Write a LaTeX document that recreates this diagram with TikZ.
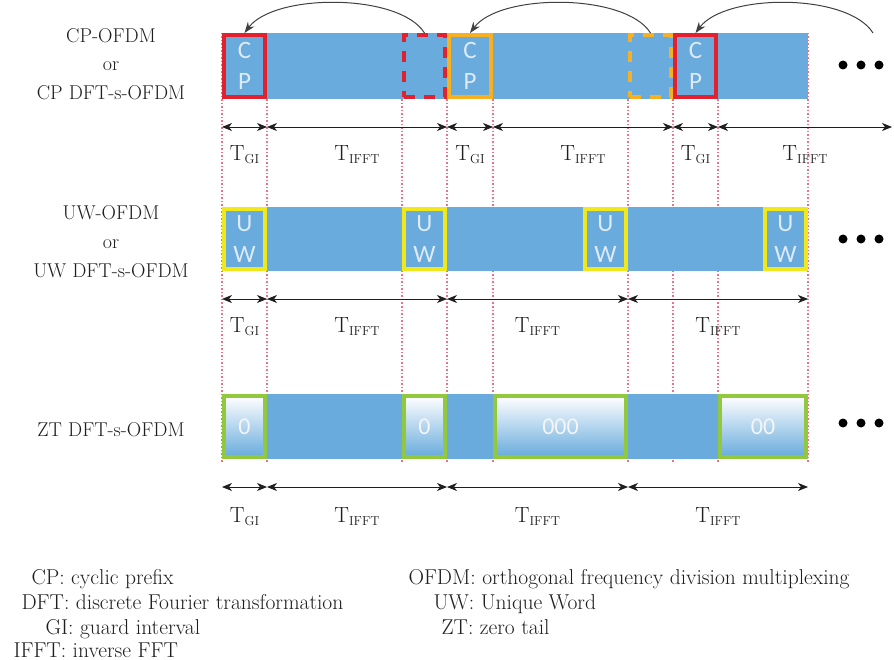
\documentclass[tikz,border=0pt]{standalone}
\usepackage{fontspec}
\newfontfamily\boxfont{Carlito}
\usetikzlibrary{arrows.meta,positioning,shadings}

\definecolor{barblue}{RGB}{104,171,220}
\definecolor{cpred}{RGB}{226,32,46}
\definecolor{cporange}{RGB}{246,176,34}
\definecolor{uwyellow}{RGB}{240,232,26}
\definecolor{ztgreen}{RGB}{146,200,62}
\definecolor{guidepink}{RGB}{240,112,132}
\definecolor{txtgray}{RGB}{30,30,30}
\definecolor{boxtext}{RGB}{222,234,245}

\newcommand{\dur}[1]{T\raisebox{-3pt}{\fontsize{13}{13}\selectfont\addfontfeatures{FakeBold=0.4}#1}}

\begin{document}
\begin{tikzpicture}[x=1pt,y=-1pt,
  gibox/.style={draw, line width=4pt, inner sep=0pt, minimum width=41pt,
    align=center, text=boxtext, font=\boxfont\fontsize{25}{31}\selectfont},
  srcbox/.style={draw, line width=4pt, inner sep=0pt, minimum width=41pt,
    minimum height=62pt, dash pattern=on 11pt off 9pt},
  ztbox/.style={draw=ztgreen, line width=4pt, inner sep=0pt, minimum height=61pt,
    top color=white, middle color=white!80!barblue, bottom color=barblue,
    text=white!92!gray, font=\boxfont\fontsize{24}{28}\selectfont},
  guide/.style={guidepink, line width=1.1pt, dash pattern=on 1.5pt off 2pt},
  copyarrow/.style={line width=1pt, draw=txtgray!85, -{Stealth[length=11pt,width=8pt]}},
  dimarrow/.style={line width=0.9pt, draw=txtgray,
    {Stealth[length=10pt,width=8pt,inset=3pt]}-{Stealth[length=10pt,width=8pt,inset=3pt]}},
  dimlab/.style={text=txtgray, font=\fontsize{22}{24}\selectfont\addfontfeatures{FakeBold=0.4}},
  rowlab/.style={text=txtgray, align=center},
  legend/.style={text=txtgray, anchor=base west, font=\fontsize{21.5}{25}\selectfont\addfontfeatures{FakeBold=0.4}}
  ]
  \useasboundingbox (0,0) rectangle (894,660);

  % guide lines
  \foreach \x in {222,267,402,447,493,628,673,718,808}
    \draw[guide] (\x,33) -- (\x,462);

  % CP row
  \fill[barblue] (222,33) rectangle (808,99);
  \node[gibox, draw=cpred, minimum height=62pt] (cp1) at (244.5,66) {C\\P};
  \node[srcbox, draw=cpred] (cpsrc1) at (424.5,66) {};
  \node[gibox, draw=cporange, minimum width=42pt, minimum height=62pt] (cp2) at (470,66) {C\\P};
  \node[srcbox, draw=cporange] (cpsrc2) at (650.5,66) {};
  \node[gibox, draw=cpred, minimum height=62pt] (cp3) at (695.5,66) {C\\P};
  \coordinate (cpsrc3) at (873,33);

  \draw[copyarrow] (cpsrc1.north) .. controls +(-25,-40) and +(30,-40) .. (cp1.north);
  \draw[copyarrow] (cpsrc2.north) .. controls +(-25,-40) and +(30,-40) .. (cp2.north);
  \draw[copyarrow] (cpsrc3) .. controls +(-25,-40) and +(30,-40) .. (cp3.north);

  % UW row
  \fill[barblue] (222,207) rectangle (808,271);
  \node[gibox, draw=uwyellow, minimum height=60pt] (uw1) at (244.5,239) {U\\W};
  \node[gibox, draw=uwyellow, minimum height=60pt] (uw2) at (424.5,239) {U\\W};
  \node[gibox, draw=uwyellow, minimum height=60pt] (uw3) at (605.5,239) {U\\W};
  \node[gibox, draw=uwyellow, minimum height=60pt] (uw4) at (785.5,239) {U\\W};

  % ZT row
  \fill[barblue] (222,394) rectangle (808,459);
  \node[ztbox, minimum width=41pt] (zt1) at (244.5,426.5) {0};
  \node[ztbox, minimum width=41pt] (zt2) at (424.5,426.5) {0};
  \node[ztbox, minimum width=131pt] (zt3) at (560.5,426.5) {000};
  \node[ztbox, minimum width=86pt] (zt4) at (763,426.5) {00};

  % dots
  \foreach \y in {65,239,423}
    \foreach \x in {843,861,879}
      \fill[black] (\x,\y) circle (4.5);

  % durations
  \foreach \a/\b/\s [count=\i] in {222/267/GI,267/447/IFFT,447/493/GI,493/673/IFFT,673/718/GI,718/892/IFFT}
    \draw[dimarrow] (\a,127) -- (\b,127) node[dimlab, midway, yshift=-28pt] (ta\i) {\dur{\s}};
  \foreach \a/\b/\s [count=\i] in {222/267/GI,267/447/IFFT,447/628/IFFT,628/808/IFFT}
    \draw[dimarrow] (\a,299) -- (\b,299) node[dimlab, midway, yshift=-28pt] (tb\i) {\dur{\s}};
  \foreach \a/\b/\s [count=\i] in {222/267/GI,267/447/IFFT,447/628/IFFT,628/808/IFFT}
    \draw[dimarrow] (\a,487) -- (\b,487) node[dimlab, midway, yshift=-30pt] (tc\i) {\dur{\s}};

  % row names
  \node[rowlab, font=\fontsize{20}{28.5}\selectfont\addfontfeatures{FakeBold=0.4}] (name1) at (111,64) {CP-OFDM\\or\\CP DFT-s-OFDM};
  \node[rowlab, font=\fontsize{20}{29}\selectfont\addfontfeatures{FakeBold=0.4}] (name2) at (111,242) {UW-OFDM\\or\\UW DFT-s-OFDM};
  \node[rowlab, font=\fontsize{20}{24}\selectfont\addfontfeatures{FakeBold=0.4}] (name3) at (111,430) {ZT DFT-s-OFDM};

  % legend
  \node[legend] (lg1) at (28,584) {CP: cyclic prefix};
  \node[legend] (lg2) at (18,609) {DFT: discrete Fourier transformation};
  \node[legend] (lg3) at (42,634) {GI: guard interval};
  \node[legend] (lg4) at (10,657) {IFFT: inverse FFT};
  \node[legend] (lg5) at (405,584) {OFDM: orthogonal frequency division multiplexing};
  \node[legend] (lg6) at (430,609) {UW: Unique Word};
  \node[legend] (lg7) at (438,634) {ZT: zero tail};
\end{tikzpicture}
\end{document}
